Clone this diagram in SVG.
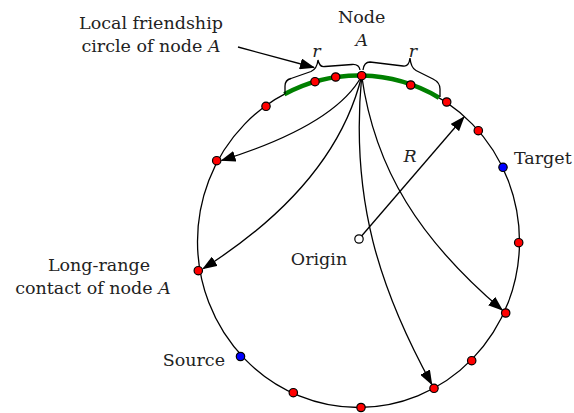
<svg xmlns="http://www.w3.org/2000/svg" width="574" height="413" viewBox="0 0 574 413">
<defs>
<style>
.t{font-family:"DejaVu Serif","Liberation Serif",serif;font-size:17.5px;fill:#222}
.i{font-style:italic}
.ln{fill:none;stroke:#000;stroke-width:1.3}
.node{stroke:#000;stroke-width:1.2}
.red{fill:#ff0000}
.blue{fill:#0000ff}
</style>
<marker id="ah" viewBox="0 0 15 11" refX="14" refY="5.5" markerWidth="15" markerHeight="11" markerUnits="userSpaceOnUse" orient="auto">
<path d="M0,0 L15,5.5 L0,11 z" fill="#000"/>
</marker>
</defs>
<rect width="574" height="413" fill="#fff"/>
<g id="ring">
<ellipse cx="358.5" cy="241.5" rx="161" ry="166" class="ln"/>
<path d="M284.3,94.3 A161,166 0 0,1 439,97.7" fill="none" stroke="#008000" stroke-width="4.5"/>
</g>
<g id="braces" class="ln" stroke-width="1.6">
<path d="M285,94 L285,86 Q285,80 291,78.5 L311,71.5 Q317,69 318,60 Q319.5,67.5 325,66.5 L352,64.5 Q359,64 360,70"/>
<path d="M363,70 Q364,62 370,62 L403,66 Q409,67 410,58 Q411,68 416,70.5 L433,79 Q440,82.5 440,89 L440,97"/>
</g>
<g id="connectors" class="ln">
<path d="M238,47 L314,67.5" marker-end="url(#ah)"/>
<path d="M361.7,76 Q335,125 221.5,160.5" marker-end="url(#ah)"/>
<path d="M361.7,76 Q335,185 203,268.8" marker-end="url(#ah)"/>
<path d="M361.7,76 C350,200 380,290 431.8,384.4" marker-end="url(#ah)"/>
<path d="M361.7,76 C375,170 420,240 502.3,310.1" marker-end="url(#ah)"/>
<path d="M359,239 L464,117" marker-end="url(#ah)"/>
</g>
<g id="nodes">
<circle id="nodeA" cx="361.7" cy="75.7" r="4.2" class="node red"/>
<circle cx="315" cy="81.7" r="4.2" class="node red"/>
<circle cx="335.7" cy="77" r="4.2" class="node red"/>
<circle cx="410.7" cy="85" r="4.2" class="node red"/>
<circle cx="446.7" cy="102" r="4.2" class="node red"/>
<circle cx="266" cy="106.3" r="4.2" class="node red"/>
<circle cx="478.3" cy="130.7" r="4.2" class="node red"/>
<circle cx="216.7" cy="160.7" r="4.2" class="node red"/>
<circle cx="198.3" cy="270.7" r="4.2" class="node red"/>
<circle cx="518.7" cy="242.7" r="4.2" class="node red"/>
<circle cx="505.7" cy="313" r="4.2" class="node red"/>
<circle cx="471.7" cy="360.7" r="4.2" class="node red"/>
<circle cx="434" cy="388.3" r="4.2" class="node red"/>
<circle cx="361" cy="407.5" r="4.2" class="node red"/>
<circle cx="293.3" cy="392.7" r="4.2" class="node red"/>
<circle id="target" cx="503" cy="167.3" r="4.2" class="node blue"/>
<circle id="source" cx="240.5" cy="356.5" r="4.2" class="node blue"/>
<circle id="origin" cx="359" cy="239" r="4.2" fill="#fff" stroke="#000" stroke-width="1.2"/>
</g>
<g id="labels">
<text class="t" x="151" y="29" text-anchor="middle">Local friendship</text>
<text class="t" x="151" y="52" text-anchor="middle">circle of node <tspan class="i">A</tspan></text>
<text class="t" x="361.7" y="23" text-anchor="middle">Node</text>
<text class="t i" x="361.7" y="46" text-anchor="middle">A</text>
<text class="t i" x="316.5" y="57" text-anchor="middle">r</text>
<text class="t i" x="413" y="57" text-anchor="middle">r</text>
<text class="t i" x="410" y="162" text-anchor="middle">R</text>
<text class="t" x="514" y="164">Target</text>
<text class="t" x="319" y="265" text-anchor="middle">Origin</text>
<text class="t" x="99" y="271" text-anchor="middle">Long-range</text>
<text class="t" x="93" y="294" text-anchor="middle">contact of node <tspan class="i">A</tspan></text>
<text class="t" x="225" y="366" text-anchor="end">Source</text>
</g>
</svg>
